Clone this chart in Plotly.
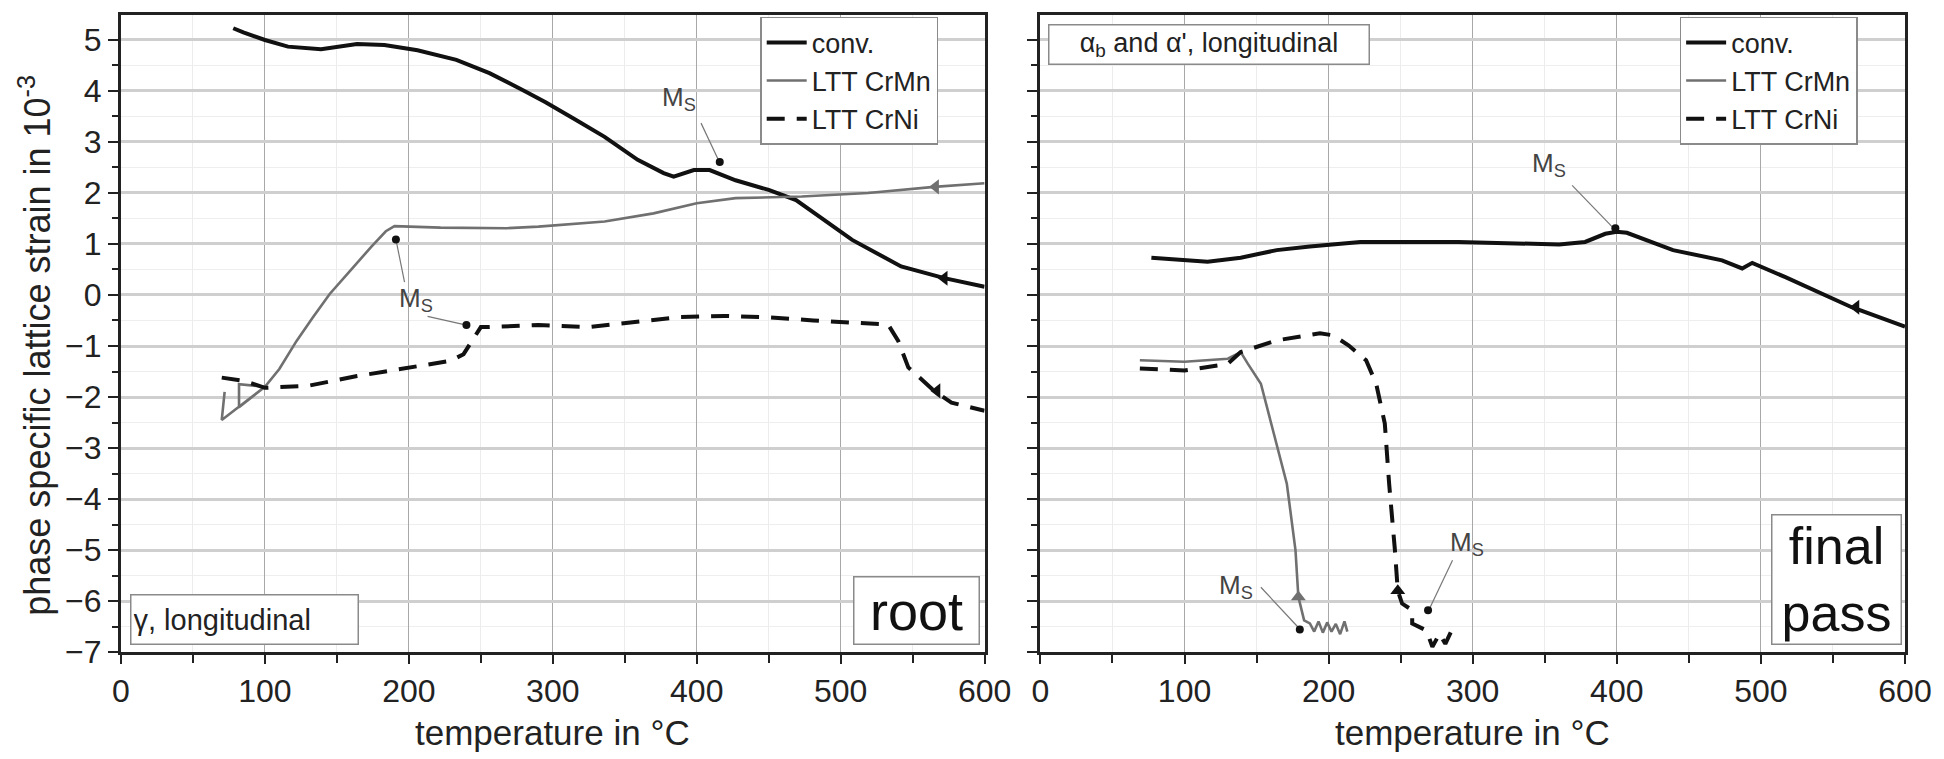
import plotly.graph_objects as go

# ---------------- data ----------------
# root (left panel)
root_conv_x = [78, 85, 100, 116, 139, 164, 183, 206, 233, 256, 279, 295, 315, 336, 359, 377, 384, 398, 409, 427, 450, 469, 485, 508, 542, 572, 600]
root_conv_y = [5.23, 5.15, 5.0, 4.87, 4.82, 4.92, 4.90, 4.80, 4.61, 4.35, 4.02, 3.78, 3.45, 3.10, 2.65, 2.39, 2.32, 2.45, 2.45, 2.25, 2.06, 1.86, 1.54, 1.08, 0.56, 0.33, 0.16]

root_crmn_x = [72, 70, 100, 82, 82, 100, 110, 122, 133, 145, 161, 174, 184, 190, 222, 268, 290, 336, 370, 400, 427, 473, 519, 565, 600]
root_crmn_y = [-1.9, -2.45, -1.8, -1.75, -2.2, -1.8, -1.45, -0.9, -0.45, 0.02, 0.53, 0.95, 1.25, 1.35, 1.32, 1.31, 1.34, 1.44, 1.6, 1.8, 1.9, 1.93, 2.0, 2.12, 2.19]

root_crni_x = [70, 85, 100, 130, 164, 199, 229, 238, 245, 250, 256, 290, 324, 359, 389, 419, 451, 481, 513, 533, 540, 547, 565, 577, 600]
root_crni_y = [-1.62, -1.68, -1.82, -1.78, -1.59, -1.42, -1.29, -1.16, -0.84, -0.63, -0.63, -0.59, -0.63, -0.52, -0.43, -0.41, -0.44, -0.5, -0.54, -0.58, -0.9, -1.42, -1.88, -2.11, -2.27]

# final pass (right panel)
fin_conv_x = [77, 100, 116, 139, 164, 187, 200, 222, 290, 360, 378, 392, 400, 407, 439, 473, 487, 494, 517, 563, 600]
fin_conv_y = [0.73, 0.68, 0.65, 0.73, 0.88, 0.95, 0.99, 1.04, 1.04, 0.99, 1.04, 1.2, 1.24, 1.22, 0.88, 0.68, 0.52, 0.63, 0.35, -0.24, -0.62]

fin_crmn_x = [69, 100, 130, 139, 144, 153, 162, 171, 177, 179, 183, 187, 190, 193, 196, 199, 202, 205, 208, 211, 213]
fin_crmn_y = [-1.28, -1.31, -1.25, -1.12, -1.35, -1.74, -2.72, -3.7, -5.0, -5.92, -6.38, -6.44, -6.6, -6.4, -6.62, -6.42, -6.6, -6.45, -6.65, -6.4, -6.6]

fin_crni_x = [69, 100, 130, 139, 164, 194, 203, 214, 226, 233, 239, 242, 246, 248, 251, 258, 258, 268, 272, 277, 281, 285, 288]
fin_crni_y = [-1.44, -1.48, -1.35, -1.12, -0.89, -0.75, -0.79, -0.99, -1.28, -1.74, -2.52, -3.7, -5.0, -5.8, -6.05, -6.18, -6.44, -6.58, -6.9, -6.64, -6.84, -6.6, -6.58]

# direction arrows on the curves (x, y, symbol, series)
root_arrows = [(572, 0.33, "triangle-left", "conv"), (566, 2.12, "triangle-left", "crmn"), (567, -1.88, "triangle-left", "crni")]
fin_arrows = [(566, -0.24, "triangle-left", "conv"), (179, -5.92, "triangle-up", "crmn"), (248, -5.8, "triangle-up", "crni")]

# M_S points, label positions and leader lines
root_ms_dots_x = [416, 191, 240]
root_ms_dots_y = [2.61, 1.09, -0.59]
root_ms_labels = [(388, 3.85), (205, -0.08)]
root_ms_leaders = [((403, 3.37), (415, 2.65)), ((197, 0.25), (191, 1.09)), ((213, -0.42), (240, -0.59))]

fin_ms_dots_x = [399, 180, 269]
fin_ms_dots_y = [1.31, -6.56, -6.18]
fin_ms_labels = [(353, 2.55), (136, -5.72), (296, -4.88)]
fin_ms_leaders = [((369, 2.15), (397, 1.33)), ((153, -5.73), (179, -6.52)), ((286, -5.2), (270, -6.15))]

series_names = ["conv.", "LTT CrMn", "LTT CrNi"]

# ---------------- styling ----------------
FONT = "Liberation Sans, Arial, sans-serif"
styles = {
    "conv": dict(color="#111111", width=4, dash="solid"),
    "crmn": dict(color="#707070", width=2.6, dash="solid"),
    "crni": dict(color="#111111", width=4, dash="18px,12px"),
}

fig = go.Figure()

def add_panel(xa, ya, legend, data, arrows, ms_x, ms_y, ms_labels, ms_leaders):
    for (key, name), (xs, ys) in zip([("conv", series_names[0]), ("crmn", series_names[1]), ("crni", series_names[2])], data):
        fig.add_trace(go.Scatter(x=xs, y=ys, mode="lines", name=name, line=styles[key],
                                 xaxis=xa, yaxis=ya, legend=legend, showlegend=True))
    for (ax_, ay_, sym, key) in arrows:
        fig.add_trace(go.Scatter(x=[ax_], y=[ay_], mode="markers", showlegend=False,
                                 marker=dict(symbol=sym, size=13, color=styles[key]["color"]),
                                 xaxis=xa, yaxis=ya))
    for (p0, p1) in ms_leaders:
        fig.add_trace(go.Scatter(x=[p0[0], p1[0]], y=[p0[1], p1[1]], mode="lines", showlegend=False,
                                 line=dict(color="#777777", width=1.2), xaxis=xa, yaxis=ya))
    fig.add_trace(go.Scatter(x=ms_x, y=ms_y, mode="markers", showlegend=False,
                             marker=dict(size=8, color="#111111"), xaxis=xa, yaxis=ya))
    for (lx, ly) in ms_labels:
        fig.add_annotation(x=lx, y=ly, xref=xa, yref=ya, text="M<sub>S</sub>", showarrow=False,
                           xanchor="center", yanchor="middle",
                           font=dict(family=FONT, size=26, color="#444444"))

add_panel("x", "y", "legend",
          [(root_conv_x, root_conv_y), (root_crmn_x, root_crmn_y), (root_crni_x, root_crni_y)],
          root_arrows, root_ms_dots_x, root_ms_dots_y, root_ms_labels, root_ms_leaders)
add_panel("x2", "y2", "legend2",
          [(fin_conv_x, fin_conv_y), (fin_crmn_x, fin_crmn_y), (fin_crni_x, fin_crni_y)],
          fin_arrows, fin_ms_dots_x, fin_ms_dots_y, fin_ms_labels, fin_ms_leaders)

W, H = 1944, 759
ML, MR, MT, MB = 121, 34, 14, 107
PW = W - ML - MR
PH = H - MT - MB
left_dom = [0, (987 - ML) / PW]
right_dom = [(1043 - ML) / PW, 1.0]

xcommon = dict(range=[0, 600], dtick=100, tick0=0, showgrid=True, gridcolor="#a8a8a8", gridwidth=1.2,
               showline=True, linecolor="#222222", linewidth=3, mirror=True,
               ticks="outside", ticklen=9, tickwidth=2, tickcolor="#222222",
               tickfont=dict(family=FONT, size=32, color="#222222"), zeroline=False,
               minor=dict(dtick=50, showgrid=True, gridcolor="#ececec", gridwidth=1,
                          ticks="outside", ticklen=8, tickwidth=2, tickcolor="#222222"))
ycommon = dict(range=[-7, 5.49], dtick=1, tick0=0, showgrid=True, gridcolor="#cfcfcf", gridwidth=3,
               showline=True, linecolor="#222222", linewidth=3, mirror=True,
               ticks="outside", ticklen=10, tickwidth=2, tickcolor="#222222",
               tickfont=dict(family=FONT, size=32, color="#222222"), zeroline=False,
               minor=dict(dtick=0.5, showgrid=True, gridcolor="#eeeeee", gridwidth=1,
                          ticks="outside", ticklen=6, tickwidth=2, tickcolor="#222222"))

legend_common = dict(y=0.997, xanchor="left", yanchor="top",
                     bgcolor="white", bordercolor="#8a8a8a", borderwidth=1.5,
                     font=dict(family=FONT, size=27, color="#222222"), tracegroupgap=0, itemwidth=40)

fig.update_layout(
    width=W, height=H, margin=dict(l=ML, r=MR, t=MT, b=MB),
    paper_bgcolor="white", plot_bgcolor="white",
    font=dict(family=FONT, color="#222222"),
    xaxis=dict(domain=left_dom, anchor="y", **xcommon),
    xaxis2=dict(domain=right_dom, anchor="y2", **xcommon),
    yaxis=dict(domain=[0, 1], anchor="x", showticklabels=True, **ycommon),
    yaxis2=dict(domain=[0, 1], anchor="x2", showticklabels=False, **ycommon),
    legend=dict(x=(762 - ML) / PW, **legend_common),
    legend2=dict(x=(1684 - ML) / PW, **legend_common),
)

# axis titles
fig.add_annotation(text="phase specific lattice strain in 10<sup>-3</sup>", textangle=-90,
                   xref="paper", yref="paper", x=(35 - ML) / PW, y=(652 - 345) / PH,
                   xanchor="center", yanchor="middle",
                   showarrow=False, font=dict(family=FONT, size=36, color="#222222"))
for dom in (left_dom, right_dom):
    fig.add_annotation(text="temperature in °C", xref="paper", yref="paper",
                       x=(dom[0] + dom[1]) / 2, y=(652 - 733) / PH, xanchor="center", yanchor="middle",
                       showarrow=False, font=dict(family=FONT, size=35, color="#222222"))

# boxed panel labels
box = dict(showarrow=False, bgcolor="white", bordercolor="#8a8a8a", borderwidth=1.5)
fig.add_annotation(text="γ, longitudinal", xref="x", yref="y", x=6, y=-6.86, xanchor="left", yanchor="bottom",
                   align="left", font=dict(family=FONT, size=29, color="#222222"),
                   width=222, height=44, borderpad=2, **box)
fig.add_annotation(text="root", xref="x", yref="y", x=597, y=-6.86, xanchor="right", yanchor="bottom",
                   font=dict(family=FONT, size=54, color="#111111"), width=120, height=62, borderpad=2, **box)
fig.add_annotation(text="α<sub>b</sub> and α', longitudinal", xref="x2", yref="y2", x=5, y=5.32,
                   xanchor="left", yanchor="top", align="center",
                   font=dict(family=FONT, size=27, color="#222222"), width=315, height=34, borderpad=2, **box)
fig.add_annotation(text="final<br>pass", xref="x2", yref="y2", x=598, y=-6.86, xanchor="right", yanchor="bottom",
                   font=dict(family=FONT, size=52, color="#111111"), width=124, height=124, borderpad=2, **box)

fig.write_html("out.html")
